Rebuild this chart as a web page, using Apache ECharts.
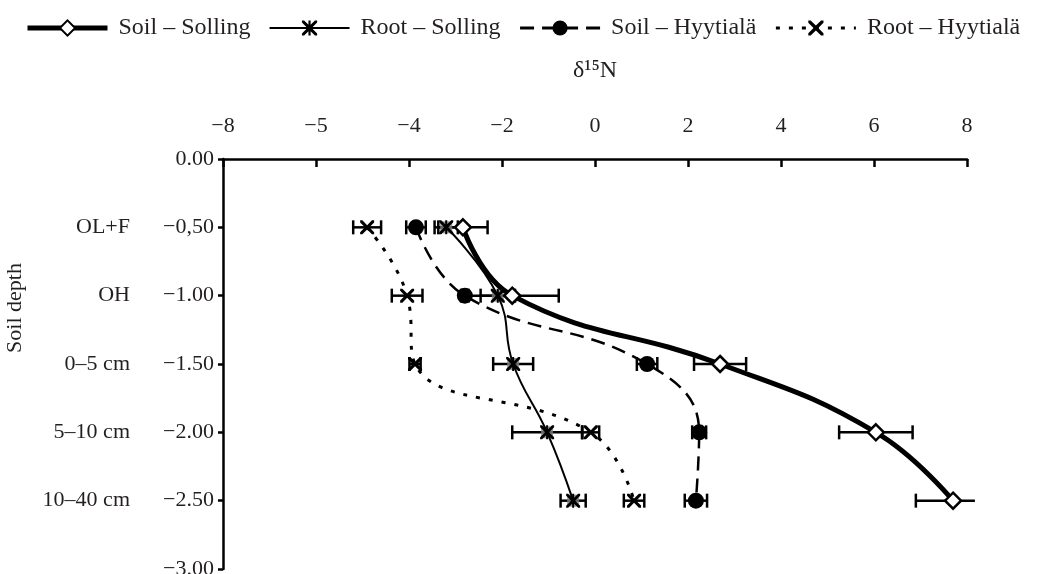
<!DOCTYPE html>
<html><head><meta charset="utf-8">
<script src="https://cdn.jsdelivr.net/npm/echarts@6/dist/echarts.min.js"></script>
<style>html,body{margin:0;padding:0;background:#fff}#c{width:1041px;height:574px}</style>
</head><body><div id="c"></div>
<script>
// ---- data ----
const depths = [-0.5, -1.0, -1.5, -2.0, -2.5];
const depthLabels = ['OL+F', 'OH', '0–5 cm', '5–10 cm', '10–40 cm'];
const xTickValues = [-8, -6, -4, -2, 0, 2, 4, 6, 8];
const xTickLabels = ['−8', '−5', '−4', '−2', '0', '2', '4', '6', '8'];
const yTickValues = [0, -0.5, -1, -1.5, -2, -2.5, -3];
const yTickLabels = ['0.00', '−0,50', '−1.00', '−1.50', '−2.00', '−2.50', '−3.00'];

const soilSolling = [-2.84, -1.78, 2.69, 6.04, 7.70];
const soilSollingErr = [0.53, 1.00, 0.56, 0.79, 0.80];
const rootSolling = [-3.20, -2.09, -1.76, -1.03, -0.47];
const rootSollingErr = [0.25, 0.37, 0.43, 0.75, 0.27];
const soilHyy = [-3.85, -2.80, 1.12, 2.24, 2.17];
const soilHyyErr = [0.21, 0.08, 0.22, 0.15, 0.24];
const rootHyy = [-4.90, -4.04, -3.87, -0.09, 0.84];
const rootHyyErr = [0.30, 0.33, 0.12, 0.18, 0.22];

const seriesNames = ['Soil – Solling', 'Root – Solling', 'Soil – Hyytialä', 'Root – Hyytialä'];

// ---- helpers ----
const X_MIN = -8, X_MAX = 8;
const FONT = 'Liberation Serif';
const TXT = '#231f20';
const pairs = (xs) => xs.map((x, i) => [x, depths[i]]);
const triples = (xs, es) => xs.map((x, i) => [x, depths[i], es[i]]);
const lookup = (vals, labels, v) => {
  for (let i = 0; i < vals.length; i++) if (Math.abs(vals[i] - v) < 1e-6) return labels[i];
  return '';
};
const X_PATH = 'path://M0,0 L2.2,0 L7,4.8 L11.8,0 L14,0 L14,2.2 L9.2,7 L14,11.8 L14,14 L11.8,14 L7,9.2 L2.2,14 L0,14 L0,11.8 L4.8,7 L0,2.2 Z';
const STAR_PATH = 'path://M0,0 L2,0 L7,5 L12,0 L14,0 L14,2 L9,7 L14,12 L14,14 L12,14 L7,9 L2,14 L0,14 L0,12 L5,7 L0,2 Z M6,0 L8,0 L8,14 L6,14 Z';

function errRender(params, api) {
  const x = api.value(0), y = api.value(1), e = api.value(2);
  let lo = x - e, hi = x + e, capHi = true;
  if (hi > X_MAX) { hi = X_MAX + 0.17; capHi = false; }
  const a = api.coord([lo, y]), b = api.coord([hi, y]);
  const h = 7;
  const style = { stroke: '#000', lineWidth: 2.5, fill: null };
  const ch = [
    { type: 'line', shape: { x1: a[0], y1: a[1], x2: b[0], y2: b[1] }, style },
    { type: 'line', shape: { x1: a[0], y1: a[1] - h, x2: a[0], y2: a[1] + h }, style }
  ];
  if (capHi) ch.push({ type: 'line', shape: { x1: b[0], y1: b[1] - h, x2: b[0], y2: b[1] + h }, style });
  return { type: 'group', children: ch };
}
const errSeries = (xs, es) => ({
  type: 'custom', renderItem: errRender, data: triples(xs, es), z: 1, clip: false, silent: true,
  encode: { x: 0, y: 1 }
});

const legendWidths = [5, 2, 3, 3];
const chart = echarts.init(document.getElementById('c'));
chart.setOption({
  animation: false,
  backgroundColor: '#fff',
  textStyle: { fontFamily: FONT, color: TXT },
  legend: {
    data: seriesNames.map((n, i) => ({ name: n, lineStyle: { width: legendWidths[i] } })),
    top: 11, left: 20,
    itemWidth: 80, itemHeight: 19, itemGap: 18,
    textStyle: { fontFamily: FONT, fontSize: 24, color: TXT, padding: [0, 0, 0, 6] }
  },
  grid: { left: 223, right: 74, top: 159, bottom: 5, outerBoundsMode: 'none', containLabel: false },
  xAxis: {
    type: 'value', position: 'top', min: X_MIN, max: X_MAX, interval: 2,
    name: 'δ¹⁵N', nameLocation: 'middle', nameGap: 76,
    nameTextStyle: { fontFamily: FONT, fontSize: 24, color: TXT },
    axisLine: { show: true, onZero: false, lineStyle: { color: '#000', width: 2.5 } },
    axisTick: { show: true, inside: true, length: 8, lineStyle: { color: '#000', width: 2.5 } },
    splitLine: { show: false },
    axisLabel: { margin: 22, fontFamily: FONT, fontSize: 22, color: TXT,
      formatter: (v) => lookup(xTickValues, xTickLabels, v) }
  },
  yAxis: [{
    type: 'value', min: -3, max: 0, interval: 0.5,
    axisLine: { show: true, onZero: false, lineStyle: { color: '#000', width: 2.5 } },
    axisTick: { show: true, length: 5, lineStyle: { color: '#000', width: 2.5 } },
    splitLine: { show: false },
    axisLabel: { margin: 9, fontFamily: FONT, fontSize: 22, color: TXT,
      formatter: (v) => lookup(yTickValues, yTickLabels, v) }
  }, {
    type: 'value', min: -3, max: 0, interval: 0.5, position: 'left', offset: 87,
    name: 'Soil depth', nameLocation: 'middle', nameRotate: 90, nameGap: 110,
    nameTextStyle: { fontFamily: FONT, fontSize: 22, color: TXT, padding: [0, 0, 0, 112] },
    axisLine: { show: false }, axisTick: { show: false }, splitLine: { show: false },
    axisLabel: { margin: 6, fontFamily: FONT, fontSize: 22, color: TXT,
      formatter: (v) => lookup(depths, depthLabels, v) }
  }],
  series: [
    errSeries(soilSolling, soilSollingErr),
    errSeries(rootSolling, rootSollingErr),
    errSeries(soilHyy, soilHyyErr),
    errSeries(rootHyy, rootHyyErr),
    { type: 'scatter', data: pairs(rootSolling), symbol: 'rect', symbolSize: 12,
      itemStyle: { color: '#7f7f7f' }, z: 2, silent: true },
    { name: seriesNames[0], type: 'line', data: pairs(soilSolling), smooth: 0.45, z: 5,
      symbol: 'diamond', symbolSize: 16,
      lineStyle: { color: '#000', width: 5 },
      itemStyle: { color: '#fff', borderColor: '#000', borderWidth: 2.5 } },
    { name: seriesNames[1], type: 'line', data: pairs(rootSolling), smooth: 0.45, z: 4,
      symbol: STAR_PATH, symbolSize: 14,
      lineStyle: { color: '#000', width: 2 },
      itemStyle: { color: '#000' } },
    { name: seriesNames[2], type: 'line', data: pairs(soilHyy), smooth: 0.45, z: 4,
      symbol: 'circle', symbolSize: 16,
      lineStyle: { color: '#000', width: 2.5, type: [14, 8] },
      itemStyle: { color: '#000' } },
    { name: seriesNames[3], type: 'line', data: pairs(rootHyy), smooth: 0.45, z: 4,
      symbol: X_PATH, symbolSize: 14,
      lineStyle: { color: '#000', width: 3, type: [4, 9] },
      itemStyle: { color: '#000' } }
  ]
});
</script>
</body></html>
